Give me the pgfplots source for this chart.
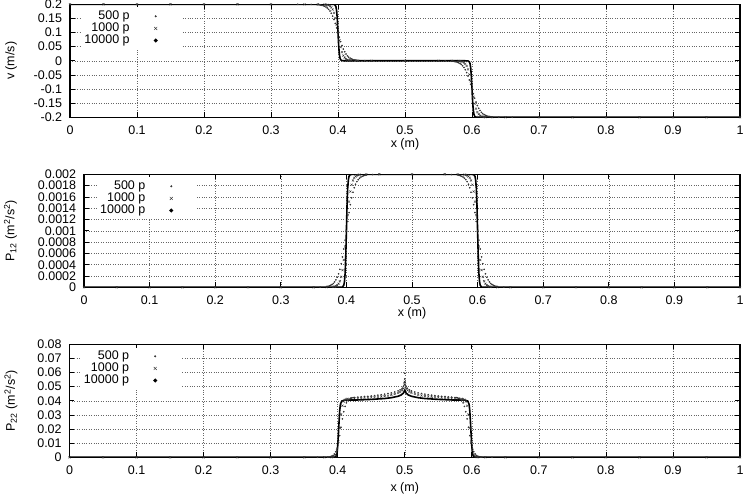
\documentclass[border=0pt]{standalone}
\usepackage{fontspec}
\setmainfont{Liberation Sans}
\usepackage{pgfplots}
\usepackage{pgfplotstable}
\pgfplotsset{compat=1.18}

% ---------------- panel 1 : v ----------------
\pgfplotstableread{
x y
0 0.2
0.05 0.2
0.1 0.2
0.15 0.2
0.2 0.2
0.25 0.2
0.3 0.2
0.34 0.2
0.36 0.1996
0.370 0.1987
0.372 0.1981
0.374 0.1974
0.376 0.1964
0.378 0.1950
0.380 0.1931
0.382 0.1905
0.384 0.1870
0.386 0.1824
0.388 0.1762
0.390 0.1682
0.392 0.1583
0.394 0.1462
0.396 0.1322
0.398 0.1165
0.400 0.1000
0.402 0.0835
0.404 0.0678
0.406 0.0538
0.408 0.0417
0.410 0.0318
0.412 0.0238
0.414 0.0176
0.416 0.0130
0.418 0.0095
0.420 0.0069
0.422 0.0050
0.424 0.0036
0.426 0.0026
0.428 0.0019
0.430 0.0013
0.44 0.0004
0.45 0
0.5 0
0.55 0
0.56 -0.0004
0.570 -0.0013
0.572 -0.0019
0.574 -0.0026
0.576 -0.0036
0.578 -0.0050
0.580 -0.0069
0.582 -0.0095
0.584 -0.0130
0.586 -0.0176
0.588 -0.0238
0.590 -0.0318
0.592 -0.0417
0.594 -0.0538
0.596 -0.0678
0.598 -0.0835
0.600 -0.1000
0.602 -0.1165
0.604 -0.1322
0.606 -0.1462
0.608 -0.1583
0.610 -0.1682
0.612 -0.1762
0.614 -0.1824
0.616 -0.1870
0.618 -0.1905
0.620 -0.1931
0.622 -0.1950
0.624 -0.1964
0.626 -0.1974
0.628 -0.1981
0.630 -0.1987
0.64 -0.1996
0.66 -0.2
0.7 -0.2
0.75 -0.2
0.8 -0.2
0.85 -0.2
0.9 -0.2
0.95 -0.2
1 -0.2
}\vA

\pgfplotstableread{
x y
0 0.2
0.05 0.2
0.1 0.2
0.15 0.2
0.2 0.2
0.25 0.2
0.3 0.2
0.35 0.2
0.37 0.1998
0.380 0.1993
0.382 0.1988
0.384 0.1980
0.386 0.1964
0.388 0.1937
0.390 0.1891
0.392 0.1815
0.394 0.1695
0.396 0.1516
0.398 0.1278
0.400 0.1000
0.402 0.0722
0.404 0.0484
0.406 0.0305
0.408 0.0185
0.410 0.0109
0.412 0.0063
0.414 0.0036
0.416 0.0020
0.418 0.0012
0.420 0.0007
0.43 0.0002
0.45 0
0.5 0
0.55 0
0.57 -0.0002
0.580 -0.0007
0.582 -0.0012
0.584 -0.0020
0.586 -0.0036
0.588 -0.0063
0.590 -0.0109
0.592 -0.0185
0.594 -0.0305
0.596 -0.0484
0.598 -0.0722
0.600 -0.1000
0.602 -0.1278
0.604 -0.1516
0.606 -0.1695
0.608 -0.1815
0.610 -0.1891
0.612 -0.1937
0.614 -0.1964
0.616 -0.1980
0.618 -0.1988
0.620 -0.1993
0.63 -0.1998
0.65 -0.2
0.7 -0.2
0.75 -0.2
0.8 -0.2
0.85 -0.2
0.9 -0.2
0.95 -0.2
1 -0.2
}\vB

\pgfplotstableread{
x y
0 0.2
0.385 0.2
0.390 0.1999
0.394 0.1995
0.396 0.1964
0.397 0.1905
0.398 0.1762
0.399 0.1462
0.400 0.1000
0.401 0.0538
0.402 0.0238
0.403 0.0095
0.404 0.0036
0.406 0.0005
0.410 0
0.590 0
0.594 -0.0005
0.596 -0.0036
0.597 -0.0095
0.598 -0.0238
0.599 -0.0538
0.600 -0.1000
0.601 -0.1462
0.602 -0.1762
0.603 -0.1905
0.604 -0.1964
0.606 -0.1995
0.610 -0.1999
0.615 -0.2
1 -0.2
}\vC

% ---------------- panel 2 : P12 ----------------
\pgfplotstableread{
x y
0 0
0.05 0
0.1 0
0.15 0
0.2 0
0.25 0
0.3 0
0.35 0
0.36 0.000004
0.370 0.000013
0.372 0.000019
0.374 0.000026
0.376 0.000036
0.378 0.000050
0.380 0.000069
0.382 0.000095
0.384 0.000130
0.386 0.000176
0.388 0.000238
0.390 0.000318
0.392 0.000417
0.394 0.000538
0.396 0.000678
0.398 0.000835
0.400 0.001000
0.402 0.001165
0.404 0.001322
0.406 0.001462
0.408 0.001583
0.410 0.001682
0.412 0.001762
0.414 0.001824
0.416 0.001870
0.418 0.001905
0.420 0.001931
0.422 0.001950
0.424 0.001964
0.426 0.001974
0.428 0.001981
0.430 0.001987
0.44 0.001996
0.45 0.002
0.5 0.002
0.55 0.002
0.56 0.001996
0.570 0.001987
0.572 0.001981
0.574 0.001974
0.576 0.001964
0.578 0.001950
0.580 0.001931
0.582 0.001905
0.584 0.001870
0.586 0.001824
0.588 0.001762
0.590 0.001682
0.592 0.001583
0.594 0.001462
0.596 0.001322
0.598 0.001165
0.600 0.001000
0.602 0.000835
0.604 0.000678
0.606 0.000538
0.608 0.000417
0.610 0.000318
0.612 0.000238
0.614 0.000176
0.616 0.000130
0.618 0.000095
0.620 0.000069
0.622 0.000050
0.624 0.000036
0.626 0.000026
0.628 0.000019
0.630 0.000013
0.64 0.000004
0.65 0
0.7 0
0.75 0
0.8 0
0.85 0
0.9 0
0.95 0
1 0
}\pA

\pgfplotstableread{
x y
0 0
0.05 0
0.1 0
0.15 0
0.2 0
0.25 0
0.3 0
0.35 0
0.37 0.000002
0.380 0.000007
0.382 0.000012
0.384 0.000020
0.386 0.000036
0.388 0.000063
0.390 0.000109
0.392 0.000185
0.394 0.000305
0.396 0.000484
0.398 0.000722
0.400 0.001000
0.402 0.001278
0.404 0.001516
0.406 0.001695
0.408 0.001815
0.410 0.001891
0.412 0.001937
0.414 0.001964
0.416 0.001980
0.418 0.001988
0.420 0.001993
0.43 0.001998
0.45 0.002
0.5 0.002
0.55 0.002
0.57 0.001998
0.580 0.001993
0.582 0.001988
0.584 0.001980
0.586 0.001964
0.588 0.001937
0.590 0.001891
0.592 0.001815
0.594 0.001695
0.596 0.001516
0.598 0.001278
0.600 0.001000
0.602 0.000722
0.604 0.000484
0.606 0.000305
0.608 0.000185
0.610 0.000109
0.612 0.000063
0.614 0.000036
0.616 0.000020
0.618 0.000012
0.620 0.000007
0.63 0.000002
0.65 0
0.7 0
0.75 0
0.8 0
0.85 0
0.9 0
0.95 0
1 0
}\pB

\pgfplotstableread{
x y
0 0
0.385 0
0.390 0.000001
0.394 0.000005
0.396 0.000036
0.397 0.000095
0.398 0.000238
0.399 0.000538
0.400 0.001000
0.401 0.001462
0.402 0.001762
0.403 0.001905
0.404 0.001964
0.406 0.001995
0.410 0.002
0.590 0.002
0.594 0.001995
0.596 0.001964
0.597 0.001905
0.598 0.001762
0.599 0.001462
0.600 0.001000
0.601 0.000538
0.602 0.000238
0.603 0.000095
0.604 0.000036
0.606 0.000005
0.610 0
1 0
}\pC

% ---------------- panel 3 : P22 ----------------
\pgfplotstableread{
x y
0 0
0.05 0
0.1 0
0.15 0
0.2 0
0.25 0
0.3 0
0.35 0
0.37 0.00003
0.385 0.00015
0.387 0.00026
0.389 0.00043
0.391 0.00077
0.393 0.00134
0.395 0.00232
0.397 0.00393
0.399 0.00648
0.401 0.01029
0.403 0.01534
0.405 0.02125
0.407 0.02716
0.409 0.03222
0.411 0.03602
0.413 0.03857
0.415 0.04018
0.417 0.04116
0.419 0.04174
0.421 0.04208
0.423 0.04225
0.425 0.04235
0.43 0.0426
0.435 0.0428
0.44 0.0430
0.445 0.0432
0.45 0.0434
0.455 0.0437
0.46 0.0440
0.465 0.0443
0.47 0.0447
0.475 0.0451
0.48 0.0456
0.485 0.0462
0.49 0.0470
0.493 0.0477
0.496 0.0488
0.498 0.0502
0.4995 0.0530
0.5 0.0555
0.5 0.0595
0.5 0.0795
0.5005 0.0530
0.502 0.0502
0.504 0.0488
0.507 0.0477
0.51 0.0470
0.515 0.0462
0.52 0.0456
0.525 0.0451
0.53 0.0447
0.535 0.0443
0.54 0.0440
0.545 0.0437
0.55 0.0434
0.555 0.0432
0.56 0.0430
0.565 0.0428
0.57 0.0426
0.575 0.04235
0.577 0.04225
0.579 0.04208
0.581 0.04174
0.583 0.04116
0.585 0.04018
0.587 0.03857
0.589 0.03602
0.591 0.03222
0.593 0.02716
0.595 0.02125
0.597 0.01534
0.599 0.01029
0.601 0.00648
0.603 0.00393
0.605 0.00232
0.607 0.00134
0.609 0.00077
0.611 0.00043
0.613 0.00026
0.615 0.00015
0.63 0.00003
0.65 0
0.7 0
0.75 0
0.8 0
0.85 0
0.9 0
0.95 0
1 0
}\qA

\pgfplotstableread{
x y
0 0
0.05 0
0.1 0
0.15 0
0.2 0
0.25 0
0.3 0
0.35 0
0.38 0.00002
0.391 0.0001
0.393 0.00028
0.395 0.00075
0.397 0.00197
0.399 0.00495
0.401 0.01116
0.403 0.02075
0.405 0.03034
0.407 0.03655
0.409 0.03953
0.411 0.04075
0.413 0.04122
0.415 0.04140
0.42 0.0416
0.425 0.0417
0.43 0.0418
0.435 0.0419
0.44 0.0421
0.445 0.0422
0.45 0.0424
0.455 0.0426
0.46 0.0428
0.465 0.0430
0.47 0.0433
0.475 0.0437
0.48 0.0442
0.485 0.0448
0.49 0.0456
0.493 0.0463
0.496 0.0474
0.498 0.0488
0.4995 0.0515
0.5 0.0535
0.5005 0.0515
0.502 0.0488
0.504 0.0474
0.507 0.0463
0.51 0.0456
0.515 0.0448
0.52 0.0442
0.525 0.0437
0.53 0.0433
0.535 0.0430
0.54 0.0428
0.545 0.0426
0.55 0.0424
0.555 0.0422
0.56 0.0421
0.565 0.0419
0.57 0.0418
0.575 0.0417
0.58 0.0416
0.585 0.04140
0.587 0.04122
0.589 0.04075
0.591 0.03953
0.593 0.03655
0.595 0.03034
0.597 0.02075
0.599 0.01116
0.601 0.00495
0.603 0.00197
0.605 0.00075
0.607 0.00028
0.609 0.0001
0.62 0.00002
0.65 0
0.7 0
0.75 0
0.8 0
0.85 0
0.9 0
0.95 0
1 0
}\qB

\pgfplotstableread{
x y
0 0
0.390 0
0.396 0.0002
0.398 0.0010
0.399 0.0030
0.400 0.0080
0.401 0.0160
0.402 0.0250
0.403 0.0330
0.404 0.0375
0.406 0.0398
0.410 0.0405
0.43 0.0406
0.45 0.0410
0.47 0.0416
0.48 0.0422
0.49 0.0432
0.495 0.0442
0.498 0.0455
0.5 0.0475
0.502 0.0455
0.505 0.0442
0.51 0.0432
0.52 0.0422
0.53 0.0416
0.55 0.0410
0.57 0.0406
0.59 0.0405
0.594 0.0398
0.596 0.0375
0.597 0.0330
0.598 0.0250
0.599 0.0160
0.600 0.0080
0.601 0.0030
0.602 0.0010
0.604 0.0002
0.61 0
1 0
}\qC

\newcommand{\fs}{\fontsize{12.5}{14}\selectfont}

\pgfplotsset{
  gp/.style={
    scale only axis, height=113pt, xmin=0, xmax=1,
    xtick={0,0.1,0.2,0.3,0.4,0.5,0.6,0.7,0.8,0.9,1},
    xticklabels={0,0.1,0.2,0.3,0.4,0.5,0.6,0.7,0.8,0.9,1},
    scaled y ticks=false, scaled x ticks=false,
    grid=major,
    major grid style={dotted, black!60, line width=0.5pt},
    axis line style={line width=1.1pt},
    every tick/.style={black, line width=0.7pt},
    major tick length=5pt,
    tick align=inside,
    tick label style={font=\fs},
    label style={font=\fs},
    yticklabel style={xshift=-3.5pt},
    xticklabel style={yshift=-4pt},
    xlabel={x (m)},
    legend cell align=right,
    legend plot pos=right,
    legend style={draw=none, fill=white, inner sep=3pt, font=\fs,
      nodes={inner sep=0.5pt}, row sep=0.5pt, anchor=north west, yshift=-3pt},
  },
  pa/.style={only marks, mark=*, mark size=0.6pt, black!80,
    legend image code/.code={\path[draw=none,fill=none] (0,0)--(48pt,0); \fill[black!80] (25.5pt,0) circle (0.8pt);}},
  pb/.style={only marks, mark=x, mark size=1.5pt, black!80, mark options={line width=0.4pt},
    legend image code/.code={\path[draw=none,fill=none] (0,0)--(48pt,0); \draw[black!80, line width=0.4pt] (24pt,-1.5pt)--(27pt,1.5pt) (24pt,1.5pt)--(27pt,-1.5pt);}},
  pc/.style={no marks, black, line width=1.6pt,
    legend image code/.code={\path[draw=none,fill=none] (0,0)--(48pt,0); \fill[black] (25.5pt,0) circle (1pt);}},
}

\begin{document}
\fs
\begin{tikzpicture}
% ---------- panel 1 ----------
\begin{axis}[gp, at={(70pt,379.7pt)}, width=670pt,
  ymin=-0.2, ymax=0.2,
  ytick={-0.2,-0.15,-0.1,-0.05,0,0.05,0.1,0.15,0.2},
  yticklabels={-0.2,-0.15,-0.1,-0.05,0,0.05,0.1,0.15,0.2},
  ylabel={v (m/s)},
  ylabel style={at={(axis description cs:-0.088,0.5)}, anchor=center},
  xlabel style={at={(axis description cs:0.5,-0.235)}, anchor=center},
  legend style={at={(axis description cs:0.0161,1)}},
]
\addplot[pa] table {\vA};
\addlegendentry{500 p}
\addplot[pb] table {\vB};
\addlegendentry{1000 p}
\addplot[pc] table {\vC};
\addlegendentry{10000 p}
\end{axis}
% ---------- panel 2 ----------
\begin{axis}[gp, at={(84pt,209.7pt)}, width=656pt,
  ymin=0, ymax=0.002,
  ytick={0,0.0002,0.0004,0.0006,0.0008,0.001,0.0012,0.0014,0.0016,0.0018,0.002},
  yticklabels={0,0.0002,0.0004,0.0006,0.0008,0.001,0.0012,0.0014,0.0016,0.0018,0.002},
  ylabel={P\textsubscript{12} (m\textsuperscript{2}/s\textsuperscript{2})},
  ylabel style={at={(axis description cs:-0.112,0.5)}, anchor=center},
  xlabel style={at={(axis description cs:0.5,-0.232)}, anchor=center},
  legend style={at={(axis description cs:0.019,1)}},
]
\addplot[pa] table {\pA};
\addlegendentry{500 p}
\addplot[pb] table {\pB};
\addlegendentry{1000 p}
\addplot[pc] table {\pC};
\addlegendentry{10000 p}
\end{axis}
% ---------- panel 3 ----------
\begin{axis}[gp, at={(69.5pt,39.7pt)}, width=670.5pt,
  ymin=0, ymax=0.08,
  ytick={0,0.01,0.02,0.03,0.04,0.05,0.06,0.07,0.08},
  yticklabels={0,0.01,0.02,0.03,0.04,0.05,0.06,0.07,0.08},
  ylabel={P\textsubscript{22} (m\textsuperscript{2}/s\textsuperscript{2})},
  ylabel style={at={(axis description cs:-0.0872,0.5)}, anchor=center},
  xlabel style={at={(axis description cs:0.5,-0.272)}, anchor=center},
  legend style={at={(axis description cs:0.0161,1)}},
]
\addplot[pa] table {\qA};
\addlegendentry{500 p}
\addplot[pb] table {\qB};
\addlegendentry{1000 p}
\addplot[pc] table {\qC};
\addlegendentry{10000 p}
\end{axis}
\pgfresetboundingbox
\path[use as bounding box] (0,0) rectangle (746pt,497pt);
\end{tikzpicture}
\end{document}
